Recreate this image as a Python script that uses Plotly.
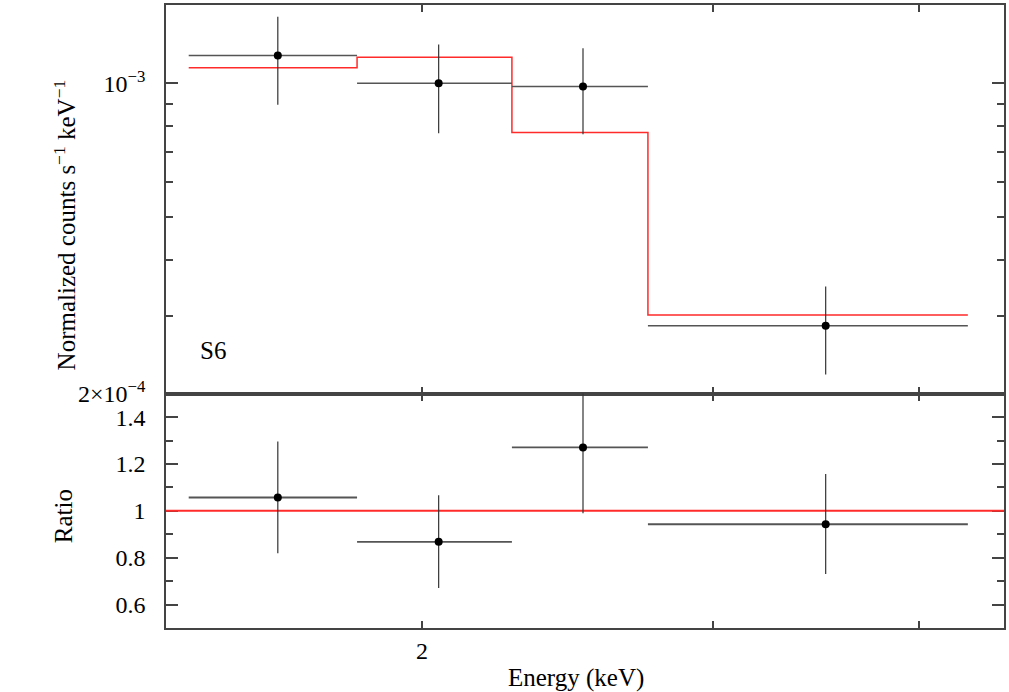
import math
import plotly.graph_objects as go
from plotly.subplots import make_subplots

# spectral bins (keV)
bin_lo = [1.445, 1.827, 2.267, 2.740]
bin_hi = [1.827, 2.267, 2.740, 4.279]
energy = [1.636, 2.047, 2.503, 3.510]

# normalized counts s^-1 keV^-1
counts = [1.154e-3, 1.000e-3, 0.983e-3, 0.2845e-3]
counts_hi = [1.411e-3, 1.223e-3, 1.198e-3, 0.3486e-3]
counts_lo = [0.894e-3, 0.772e-3, 0.768e-3, 0.2209e-3]
model = [1.084e-3, 1.144e-3, 0.775e-3, 0.3008e-3]

# data / model
ratio = [1.057, 0.868, 1.271, 0.943]
ratio_hi = [1.296, 1.067, 1.546, 1.157]
ratio_lo = [0.819, 0.671, 0.990, 0.731]

energy_range = [1.4, 4.5]
x_ticks = [2, 3, 4]
x_ticktext = ['2', '', '']
y1_ticks = [2e-4, 1e-3]
y1_ticktext = ['2×10<sup>−4</sup>', '10<sup>−3</sup>']
y1_minor = [3e-4, 4e-4, 5e-4, 6e-4, 7e-4, 8e-4, 9e-4]
y2_ticks = [0.6, 0.8, 1.0, 1.2, 1.4]
y2_ticktext = ['0.6', '0.8', '1', '1.2', '1.4']
y2_minor = [0.7, 0.9, 1.1, 1.3]

FONT = 'Liberation Serif'
AXIS_COLOR = '#444444'
RED = '#ff2a2a'

x_plus = [h - e for h, e in zip(bin_hi, energy)]
x_minus = [e - l for e, l in zip(energy, bin_lo)]

fig = make_subplots(rows=2, cols=1, shared_xaxes=True, vertical_spacing=0,
                    row_heights=[0.624, 0.376])

# model step
fig.add_trace(go.Scatter(
    x=bin_lo + [bin_hi[-1]], y=model + [model[-1]],
    mode='lines', line=dict(color=RED, width=1.5, shape='hv'),
    hoverinfo='skip', showlegend=False), row=1, col=1)

# data points
fig.add_trace(go.Scatter(
    x=energy, y=counts, mode='markers',
    marker=dict(color='black', size=8),
    error_x=dict(type='data', symmetric=False, array=x_plus, arrayminus=x_minus,
                 color='#555555', thickness=1.5, width=0),
    error_y=dict(type='data', symmetric=False,
                 array=[h - c for h, c in zip(counts_hi, counts)],
                 arrayminus=[c - l for c, l in zip(counts, counts_lo)],
                 color='#333333', thickness=1.2, width=0),
    showlegend=False), row=1, col=1)

# ratio = 1 reference line across the whole energy range
fig.add_trace(go.Scatter(
    x=energy_range, y=[1, 1], mode='lines',
    line=dict(color=RED, width=2), hoverinfo='skip', showlegend=False),
    row=2, col=1)

fig.add_trace(go.Scatter(
    x=energy, y=ratio, mode='markers',
    marker=dict(color='black', size=8),
    error_x=dict(type='data', symmetric=False, array=x_plus, arrayminus=x_minus,
                 color='#555555', thickness=1.8, width=0),
    error_y=dict(type='data', symmetric=False,
                 array=[h - r for h, r in zip(ratio_hi, ratio)],
                 arrayminus=[r - l for r, l in zip(ratio, ratio_lo)],
                 color='#333333', thickness=1.2, width=0),
    showlegend=False), row=2, col=1)

axis_common = dict(showline=True, linecolor=AXIS_COLOR, linewidth=1.5,
                   mirror='allticks', ticks='inside', tickcolor=AXIS_COLOR,
                   tickwidth=1.5, showgrid=False, zeroline=False,
                   layer='below traces',
                   tickfont=dict(family=FONT, size=24, color='black'))

x_range = [math.log10(v) for v in energy_range]
fig.update_xaxes(type='log', range=x_range, tickmode='array', tickvals=x_ticks,
                 ticktext=x_ticktext, ticklen=7, **axis_common)
fig.update_xaxes(showticklabels=False, row=1, col=1)

fig.update_yaxes(type='log', range=[math.log10(2e-4), math.log10(1.5e-3)],
                 tickmode='array', tickvals=y1_ticks, ticktext=y1_ticktext,
                 ticklen=12, ticklabelstandoff=14,
                 minor=dict(tickmode='array', tickvals=y1_minor, ticklen=7,
                            ticks='inside', tickcolor=AXIS_COLOR, tickwidth=1.5),
                 row=1, col=1, **axis_common)
fig.update_yaxes(range=[0.5, 1.5], tickmode='array', tickvals=y2_ticks,
                 ticktext=y2_ticktext, ticklen=12, ticklabelstandoff=14,
                 minor=dict(tickmode='array', tickvals=y2_minor, ticklen=7,
                            ticks='inside', tickcolor=AXIS_COLOR, tickwidth=1.5),
                 row=2, col=1, **axis_common)

label_font = dict(family=FONT, size=25, color='black')
fig.add_annotation(text='Normalized counts s<sup>−1</sup> keV<sup>−1</sup>',
                   xref='paper', yref='paper', x=-0.1204, y=0.6464,
                   textangle=-90, showarrow=False, font=label_font,
                   xanchor='center', yanchor='middle')
fig.add_annotation(text='Ratio', xref='paper', yref='paper', x=-0.122, y=0.179,
                   textangle=-90, showarrow=False, font=label_font,
                   xanchor='center', yanchor='middle')
fig.add_annotation(text='Energy (keV)', xref='paper', yref='paper', x=0.4887, y=-0.08,
                   showarrow=False, font=label_font,
                   xanchor='center', yanchor='middle')
fig.add_annotation(text='S6', xref='paper', yref='paper', x=0.056, y=0.445,
                   showarrow=False, font=label_font,
                   xanchor='center', yanchor='middle')

fig.update_layout(
    width=1009, height=692,
    margin=dict(l=166, r=4, t=3, b=64),
    plot_bgcolor='white', paper_bgcolor='white',
    font=dict(family=FONT, size=24, color='black'),
    showlegend=False,
)

# drop the default page margin so the figure sits flush in the window
fig.write_html("out.html", config={'displayModeBar': False},
               post_script="document.body.style.margin='0';")
